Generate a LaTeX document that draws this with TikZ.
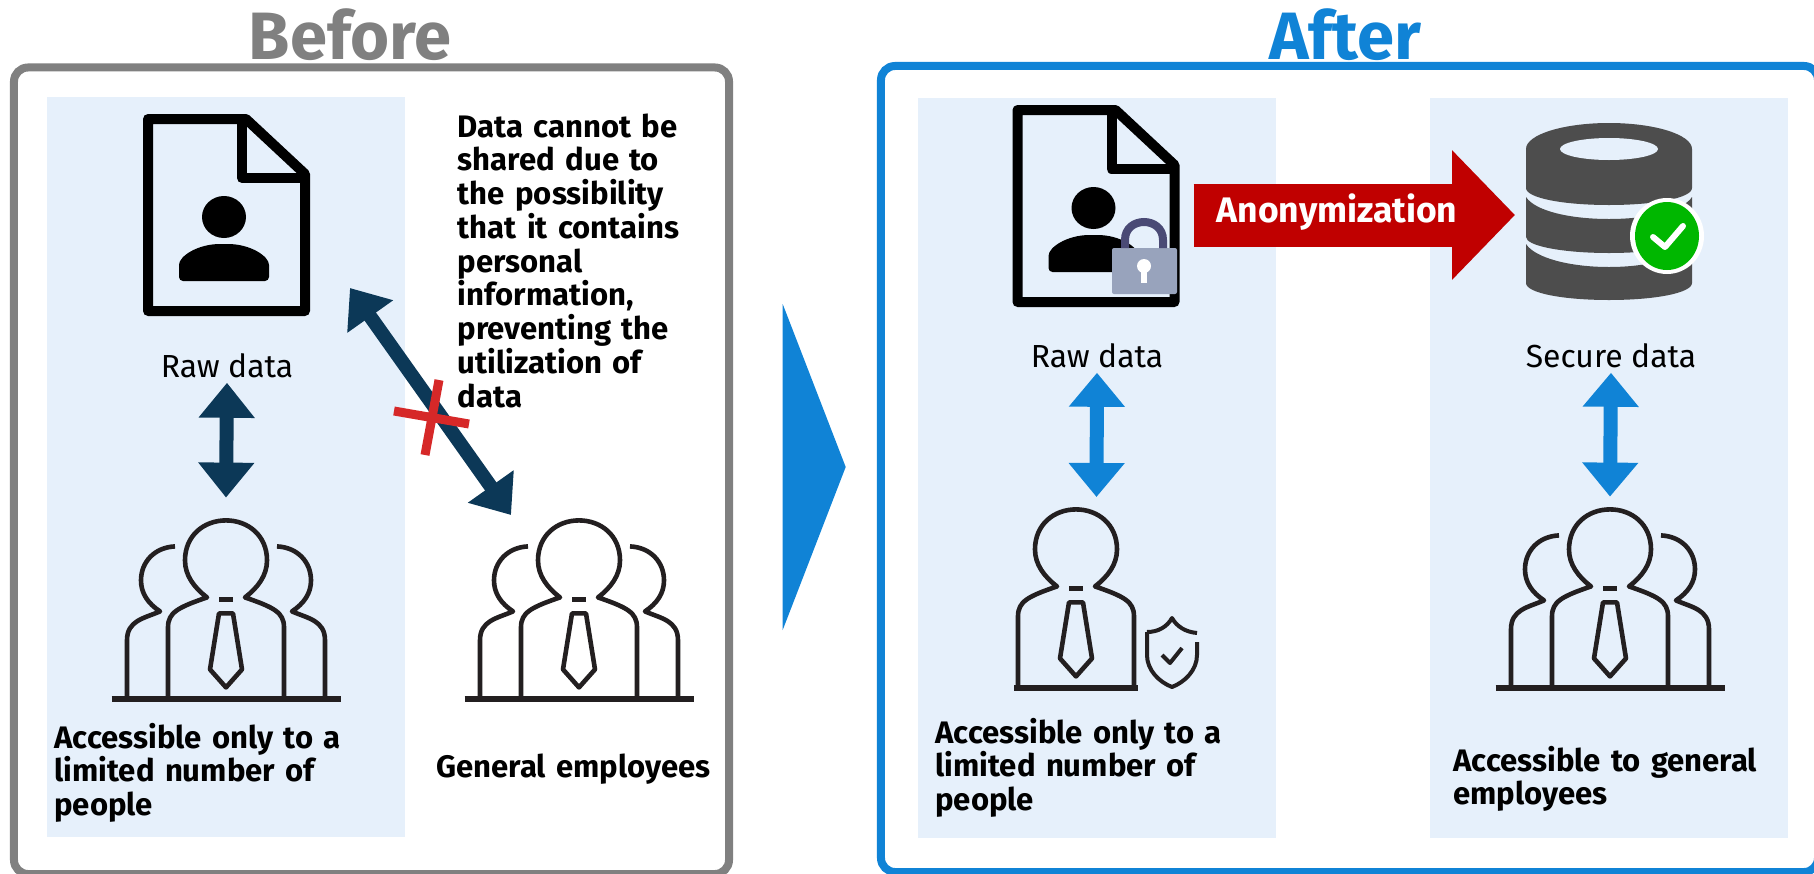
\documentclass[tikz,border=0pt]{standalone}
\usepackage{fontspec}
\setmainfont{Fira Sans}
\usetikzlibrary{positioning,arrows.meta,shapes,shapes.arrows}
\definecolor{panelgrey}{HTML}{808080}
\definecolor{panelblue}{HTML}{1083D6}
\definecolor{lightpane}{HTML}{E6F0FB}
\definecolor{navy}{HTML}{0C3857}
\definecolor{iconblack}{HTML}{231F20}
\definecolor{anonred}{HTML}{C00000}
\definecolor{xred}{HTML}{D62828}
\definecolor{dbgrey}{HTML}{4D4D4D}
\definecolor{okgreen}{HTML}{00B700}
\definecolor{lockbody}{HTML}{98A3BC}
\definecolor{lockring}{HTML}{4A4A75}
\tikzstyle{greybox}=[rectangle, rounded corners=7bp, draw=panelgrey, line width=4bp, minimum width=357.5bp, minimum height=403.25bp]
\tikzstyle{bluebox}=[rectangle, rounded corners=7bp, draw=panelblue, line width=4bp, minimum width=468.5bp, minimum height=403bp]
\tikzstyle{pane}=[rectangle, fill=lightpane, minimum width=179bp, minimum height=370bp]
\tikzstyle{iconbox}=[rectangle, minimum width=115bp, inner sep=0pt]
\tikzstyle{rawlbl}=[font=\fontsize{16}{17}\selectfont, anchor=base, inner sep=2.5bp]
\tikzstyle{boldlbl}=[font=\fontsize{15.6}{16.95}\selectfont\bfseries, anchor=base west, inner sep=0pt, text width=170bp, align=left]
\tikzstyle{titlelbl}=[font=\fontsize{33.6}{40}\selectfont\bfseries, anchor=base, inner sep=0pt]
\tikzstyle{navyarr}=[{Triangle[length=17.5bp,width=27bp]}-{Triangle[length=17.5bp,width=27bp]}, draw=navy, line width=7bp]
\tikzstyle{bluearr}=[{Triangle[length=17bp,width=27bp]}-{Triangle[length=17bp,width=27bp]}, draw=panelblue, line width=7bp]
\tikzstyle{redarr}=[-{Triangle[length=31.5bp,width=63bp]}, draw=anonred, line width=31.5bp]
\tikzstyle{iconline}=[draw=iconblack, line width=2.3bp, line join=round]
\tikzset{
  manicon/.pic={
    \draw[iconline] (-58,-2) -- (-58,-73) .. controls (-58,-88) and (-48,-93) .. (-19,-103)
      .. controls (-32,-113) and (-41,-125) .. (-41,-140) .. controls (-41,-165) and (-22,-180) .. (0,-180)
      .. controls (22,-180) and (41,-165) .. (41,-140) .. controls (41,-125) and (32,-113) .. (19,-103)
      .. controls (48,-93) and (58,-88) .. (58,-73) -- (58,-2);
    \draw[iconline] (-7,-101) -- (7,-101);
    \draw[iconline] (-7,-87) -- (7,-87) -- (16,-31) -- (0,-13) -- (-16,-31) -- cycle;
  },
  groupicon/.pic={
    \pic {manicon};
    \draw[iconline] (-51,-154) .. controls (-72,-153) and (-85,-138) .. (-85,-120)
      .. controls (-85,-107) and (-78,-97) .. (-66,-89) .. controls (-82,-82) and (-99,-80) .. (-99,-60) -- (-99,-2);
    \draw[iconline] (51,-154) .. controls (72,-153) and (85,-138) .. (85,-120)
      .. controls (85,-107) and (78,-97) .. (66,-89) .. controls (82,-82) and (99,-80) .. (99,-60) -- (99,-2);
    \draw[iconblack, line width=3bp] (-114.5,-1) -- (114.5,-1);
  },
  docicon/.pic={
    \draw[black, line width=5bp, line join=round] (5,5) -- (103,5) -- (162,60) -- (162,197) -- (5,197) -- cycle;
    \draw[black, line width=5bp, line join=round] (99,5) -- (99,64) -- (162,64);
    \fill[black] (81,103) ellipse [x radius=22, y radius=21];
    \fill[black, rounded corners=2bp] (36,167) -- (36,155) .. controls (36,142) and (55,130) .. (81,130)
      .. controls (107,130) and (126,142) .. (126,155) -- (126,167) -- cycle;
  },
}
\begin{document}
\begin{tikzpicture}[x=0.5bp,y=-0.5bp]
\useasboundingbox (0,0) rectangle (1814,874);

\node (BEFORE) [greybox] at (371.5,470.75) {};
\node (AFTER) [bluebox] at (1349.5,469) {};
\node (BEFTTL) [titlelbl, text=panelgrey] at (350,59) {Before};
\node (AFTTTL) [titlelbl, text=panelblue] at (1345,59) {After};
\node (PANEA) [pane] at (226,467) {};
\node (PANEB) [pane] at (1096.5,468) {};
\node (PANEC) [pane] at (1609,468) {};
\fill[panelblue] (782.7,304) -- (845.7,467) -- (782.7,630) -- cycle;

\pic at (143,114) {docicon};
\node (RAWA) [rawlbl] at (227,377) {Raw data};
\node (PPLA) [iconbox, minimum height=101bp] at (226,599) {};
\pic at (PPLA.south) {groupicon};
\draw[navyarr] (RAWA.south) -- (PPLA.north);
\node (LIMA) [boldlbl] at (54,748) {Accessible only to a\\limited number of\\people};

\node (PPLB) [iconbox, minimum height=101bp] at (579,599) {};
\pic at (PPLB.south) {groupicon};
\node (GENL) [boldlbl] at (436,777) {General employees};
\node (WHY) [boldlbl] at (457.5,137) {Data cannot be\\shared due to\\the possibility\\that it contains\\personal\\information,\\preventing the\\utilization of\\data};
\coordinate (NOUP) at (350,288);
\coordinate (NODN) at (511,515);
\draw[navyarr] (NOUP) -- (NODN);
\coordinate (XA) at (439,380);
\coordinate (XB) at (425,455);
\coordinate (XC) at (394,411);
\coordinate (XD) at (469,424);
\draw[xred, line width=4.5bp] (XA) -- (XB);
\draw[xred, line width=4.5bp] (XC) -- (XD);

\pic at (1012.5,105) {docicon};
\fill[lockbody, rounded corners=1bp] (1112,248) rectangle (1177,294);
\draw[lockring, line width=4bp] (1125,248) -- (1125,240) .. controls (1125,216) and (1163,216) .. (1163,240) -- (1163,248);
\fill[white] (1144,266) circle [radius=7];
\fill[white] (1141,268) rectangle (1147,283);
\node (RAWB) [rawlbl] at (1097,367) {Raw data};
\node (PPLC) [iconbox, minimum height=96bp] at (1076,593) {};
\pic at (PPLC.south) {manicon};
\draw[iconblack, line width=3bp] (1014,688) -- (1138,688);
\coordinate (PPLCUP) at (1096.5,497);
\draw[bluearr] (RAWB.south) -- (PPLCUP);
\draw[iconline, line width=2bp] (1147,632) .. controls (1158,632) and (1167,627) .. (1172,618) .. controls (1177,627) and (1186,632) .. (1197,633);
\draw[iconline, line width=2bp] (1197,642) -- (1197,655) .. controls (1197,670) and (1185,682) .. (1172,687) .. controls (1159,682) and (1147,670) .. (1147,655) -- (1147,632);
\draw[iconline, line width=2bp] (1162,655) -- (1170,663) -- (1182,648);
\node (LIMB) [boldlbl] at (935,743) {Accessible only to a\\limited number of\\people};

\coordinate (ANONA) at (1193.5,215);
\coordinate (ANONB) at (1515,215);
\draw[redarr] (ANONA) -- (ANONB);
\node (ANON) [font=\fontsize{17.8}{19}\selectfont\bfseries, text=white, anchor=base, inner sep=0pt] at (1337,222) {Anonymization};

\fill[dbgrey] (1526,149) arc [start angle=180, end angle=360, x radius=83, y radius=26] -- (1692,188) .. controls (1692,198) and (1655,205) .. (1609,205) .. controls (1563,205) and (1526,198) .. (1526,188) -- cycle;
\fill[lightpane] (1609,149) ellipse [x radius=49, y radius=11];
\fill[dbgrey] (1526,197) .. controls (1535,211) and (1570,219) .. (1609,219) .. controls (1648,219) and (1683,211) .. (1692,197) -- (1692,237) .. controls (1692,246) and (1655,253) .. (1609,253) .. controls (1563,253) and (1526,246) .. (1526,237) -- cycle;
\fill[dbgrey] (1526,244) .. controls (1535,258) and (1570,267) .. (1609,267) .. controls (1648,267) and (1683,258) .. (1692,244) -- (1692,283) .. controls (1692,293) and (1655,300) .. (1609,300) .. controls (1563,300) and (1526,293) .. (1526,283) -- cycle;
\fill[white] (1667,236) ellipse [x radius=37, y radius=38];
\fill[okgreen] (1667,236) ellipse [x radius=32, y radius=34];
\draw[white, line width=3bp, line cap=round, line join=round] (1653,237) -- (1665,247) -- (1683,226);
\node (SECD) [rawlbl] at (1611,367) {Secure data};
\node (PPLD) [iconbox, minimum height=96bp] at (1610,593) {};
\pic at (PPLD.south) {groupicon};
\draw[bluearr] (SECD.south) -- (PPLD.north);
\node (GENB) [boldlbl] at (1453,771) {Accessible to general\\employees};
\end{tikzpicture}
\end{document}
